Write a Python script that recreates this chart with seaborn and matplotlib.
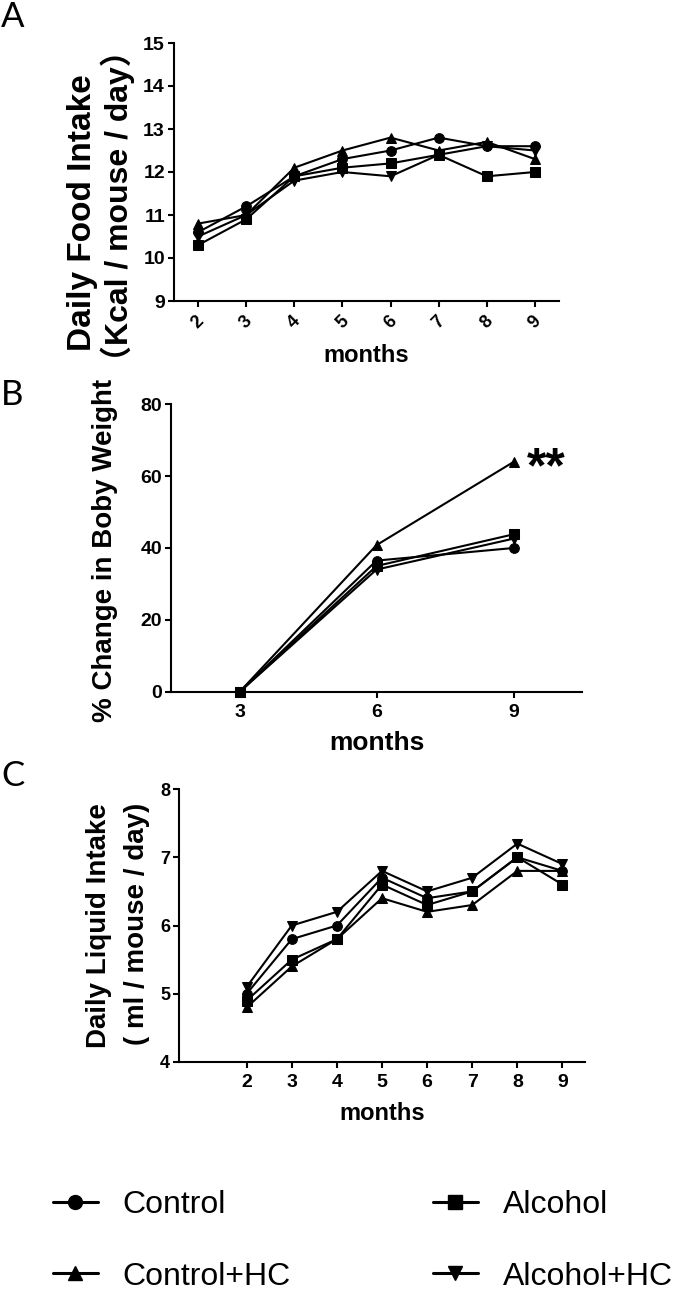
import numpy as np
import pandas as pd
import matplotlib
matplotlib.use("Agg")
import matplotlib.pyplot as plt
import seaborn as sns
from matplotlib.lines import Line2D

# ---------------- data ----------------
groups = ["Control", "Alcohol", "Control+HC", "Alcohol+HC"]

months_a = [2, 3, 4, 5, 6, 7, 8, 9]
food_control = [10.6, 11.2, 11.9, 12.3, 12.5, 12.8, 12.6, 12.6]
food_alcohol = [10.3, 10.9, 11.9, 12.1, 12.2, 12.4, 11.9, 12.0]
food_control_hc = [10.8, 11.0, 12.1, 12.5, 12.8, 12.5, 12.7, 12.3]
food_alcohol_hc = [10.5, 11.0, 11.8, 12.0, 11.9, 12.4, 12.6, 12.5]

months_b = [3, 6, 9]
bw_control = [0, 36.5, 40.0]
bw_alcohol = [0, 35.0, 43.8]
bw_control_hc = [0, 40.8, 63.9]
bw_alcohol_hc = [0, 34.0, 42.6]

months_c = [2, 3, 4, 5, 6, 7, 8, 9]
liq_control = [5.0, 5.8, 6.0, 6.7, 6.4, 6.5, 7.0, 6.8]
liq_alcohol = [4.9, 5.5, 5.8, 6.6, 6.3, 6.5, 7.0, 6.6]
liq_control_hc = [4.8, 5.4, 5.8, 6.4, 6.2, 6.3, 6.8, 6.8]
liq_alcohol_hc = [5.1, 6.0, 6.2, 6.8, 6.5, 6.7, 7.2, 6.9]

ticks_a_y = [9, 10, 11, 12, 13, 14, 15]
ticks_b_y = [0, 20, 40, 60, 80]
ticks_c_y = [4, 5, 6, 7, 8]


def long_df(x, series):
    rows = []
    for g, vals in zip(groups, series):
        for xi, v in zip(x, vals):
            rows.append({"month": xi, "value": v, "group": g})
    return pd.DataFrame(rows)


df_a = long_df(months_a, [food_control, food_alcohol, food_control_hc, food_alcohol_hc])
df_b = long_df(months_b, [bw_control, bw_alcohol, bw_control_hc, bw_alcohol_hc])
df_c = long_df(months_c, [liq_control, liq_alcohol, liq_control_hc, liq_alcohol_hc])

# ---------------- style ----------------
sns.set_theme(style="ticks")
plt.rcParams["font.family"] = ["Liberation Sans", "DejaVu Sans"]
plt.rcParams["axes.linewidth"] = 1.5
plt.rcParams["xtick.major.width"] = 1.5
plt.rcParams["ytick.major.width"] = 1.5
plt.rcParams["xtick.major.size"] = 4.5
plt.rcParams["ytick.major.size"] = 4.5
plt.rcParams["xtick.color"] = "black"
plt.rcParams["ytick.color"] = "black"
plt.rcParams["xtick.labelcolor"] = "black"
plt.rcParams["ytick.labelcolor"] = "black"
plt.rcParams["axes.edgecolor"] = "black"
plt.rcParams["axes.labelcolor"] = "black"
plt.rcParams["text.color"] = "black"

W, H = 675, 1289
fig = plt.figure(figsize=(W / 100, H / 100), dpi=100)


def add_axes(left, right, top, bottom):
    return fig.add_axes([left / W, 1 - bottom / H, (right - left) / W, (bottom - top) / H])


markers = {"Control": "o", "Alcohol": "s", "Control+HC": "^", "Alcohol+HC": "v"}
palette = {g: "black" for g in groups}


def draw(ax, df, ms):
    sns.lineplot(data=df, x="month", y="value", hue="group", style="group",
                 hue_order=groups, style_order=groups, markers=markers, dashes=False,
                 palette=palette, ax=ax, linewidth=1.5, markersize=ms,
                 markeredgecolor="black", legend=False, clip_on=False)
    sns.despine(ax=ax)
    ax.set_xlabel("")
    ax.set_ylabel("")
    ax.grid(False)


# Panel A
ax_a = add_axes(174, 559, 43, 301)
draw(ax_a, df_a, 7)
ax_a.set_xlim(1.5, 9.5)
ax_a.set_ylim(9, 15)
ax_a.set_yticks(ticks_a_y)
ax_a.set_xticks(months_a)
ax_a.set_yticklabels([str(t) for t in ticks_a_y], fontsize=14, fontweight="bold")
ax_a.set_xticklabels([str(m) for m in months_a], fontsize=13, fontweight="bold", rotation=45)
ax_a.tick_params(axis="y", pad=2)
ax_a.tick_params(axis="x", pad=4)
ax_a.set_xlabel("months", fontsize=17, fontweight="bold", labelpad=9)

# Panel B
ax_b = add_axes(171, 582, 404, 692)
draw(ax_b, df_b, 7)
ax_b.set_xlim(1.5, 10.5)
ax_b.set_ylim(0, 80)
ax_b.set_yticks(ticks_b_y)
ax_b.set_xticks(months_b)
ax_b.set_yticklabels([str(t) for t in ticks_b_y], fontsize=14, fontweight="bold")
ax_b.set_xticklabels([str(m) for m in months_b], fontsize=14, fontweight="bold")
ax_b.tick_params(axis="y", pad=2)
ax_b.tick_params(axis="x", pad=4)
ax_b.set_xlabel("months", fontsize=19, fontweight="bold", labelpad=7)
ax_b.annotate("**", xy=(months_b[-1], bw_control_hc[-1]), xytext=(10, -15),
              textcoords="offset points", fontsize=36, fontweight="bold",
              ha="left", va="baseline", annotation_clip=False)

# Panel C
ax_c = add_axes(179, 585, 789, 1062)
draw(ax_c, df_c, 7)
ax_c.set_xlim(0.5, 9.5)
ax_c.set_ylim(4, 8)
ax_c.set_yticks(ticks_c_y)
ax_c.set_xticks(months_c)
ax_c.set_yticklabels([str(t) for t in ticks_c_y], fontsize=13, fontweight="bold")
ax_c.set_xticklabels([str(m) for m in months_c], fontsize=14, fontweight="bold")
ax_c.tick_params(axis="y", pad=2)
ax_c.tick_params(axis="x", pad=4)
ax_c.set_xlabel("months", fontsize=17, fontweight="bold", labelpad=8)


def ftext(x, y, s, **kw):
    fig.text(x / W, 1 - y / H, s, **kw)


lab_kw = dict(rotation=90, ha="center", va="center", fontweight="bold")
ftext(83, 213, "Daily Food Intake", fontsize=24, **lab_kw)
ftext(118, 206, "（Kcal / mouse / day）", fontsize=23,
      family=["Liberation Sans", "Noto Sans CJK SC"], **lab_kw)
ftext(105, 550, "% Change in Boby Weight", fontsize=20, **lab_kw)
ftext(99, 926, "Daily Liquid Intake", fontsize=20, **lab_kw)
ftext(137, 924, "( ml / mouse / day)", fontsize=20, **lab_kw)

letter_kw = dict(fontsize=25, fontweight="normal", family=["Lato", "DejaVu Sans"],
                 ha="left", va="center", color="black")
ftext(1, 17, "A", **letter_kw)
ftext(1, 395, "B", **letter_kw)
ftext(1, 776, "C", **letter_kw)

# Legend
handles = {g: Line2D([], [], color="black", linewidth=2.2, marker=markers[g],
                     markersize=10, markerfacecolor="black", markeredgecolor="black")
           for g in groups}
order = ["Control", "Control+HC", "Alcohol", "Alcohol+HC"]
leg = fig.legend([handles[g] for g in order], order, ncol=2,
                 loc="upper left", bbox_to_anchor=(53 / W, 1 - 1190 / H),
                 frameon=False, fontsize=23, handlelength=1.4, handletextpad=0.78,
                 columnspacing=4.45, labelspacing=1.3, borderpad=0, borderaxespad=0)

fig.savefig("out.png", dpi=100)
